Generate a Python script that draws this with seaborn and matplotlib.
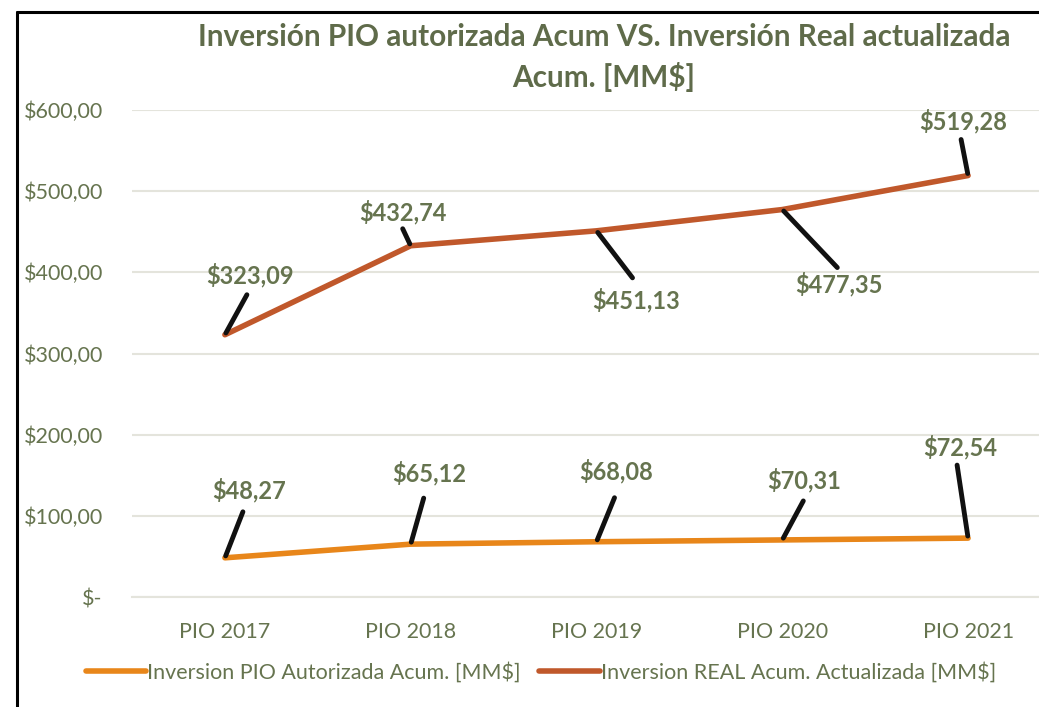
import matplotlib
matplotlib.use("Agg")
import matplotlib.pyplot as plt
import seaborn as sns
import pandas as pd
from matplotlib.lines import Line2D

categories = ["PIO 2017", "PIO 2018", "PIO 2019", "PIO 2020", "PIO 2021"]
pio_autorizada = [48.27, 65.12, 68.08, 70.31, 72.54]
real_actualizada = [323.09, 432.74, 451.13, 477.35, 519.28]
series_names = ["Inversion PIO Autorizada Acum. [MM$]",
                "Inversion REAL Acum. Actualizada [MM$]"]
y_ticks = [0, 100, 200, 300, 400, 500, 600]
y_tick_labels = ["$-", "$100,00", "$200,00", "$300,00", "$400,00", "$500,00", "$600,00"]

# label text offsets and leader-line end offsets, in pixels relative to the point
pio_text_off = [(24, 68), (19, 71), (20, 71), (22, 60), (-8, 91)]
pio_line_off = [(18, 46), (13, 46), (18, 44), (21, 39), (-11, 73)]
real_text_off = [(25, 60), (-8, 34), (40, -69), (57, -75), (-5, 54)]
real_line_off = [(22, 40), (-8, 17), (36, -47), (55, -58), (-7, 36)]

sns.set_theme(style="white")
plt.rcParams['font.family'] = ['Lato', 'DejaVu Sans']

TEXT = "#66744F"
TITLE = "#5F6B4A"
ORANGE = "#E8861A"
RUST = "#C0582B"
GRID = "#E4E4DC"

df = pd.DataFrame({
    "x": list(range(len(categories))) * 2,
    "val": pio_autorizada + real_actualizada,
    "serie": [series_names[0]] * 5 + [series_names[1]] * 5,
})

W, H = 1039, 707
fig = plt.figure(figsize=(W / 100, H / 100), dpi=100)
left_px, right_px = 132, 1061
bottom_px, top_px = 597, 110
ax = fig.add_axes([left_px / W, (H - bottom_px) / H,
                   (right_px - left_px) / W, (bottom_px - top_px) / H])

sns.lineplot(data=df, x="x", y="val", hue="serie",
             palette=[ORANGE, RUST], linewidth=4, ax=ax, legend=False,
             solid_capstyle="round")

ax.set_xlim(-0.5, len(categories) - 0.5)
ax.set_ylim(0, 600)
ax.set_yticks(y_ticks)
ax.set_yticklabels(y_tick_labels)
ax.set_xticks(range(len(categories)))
ax.set_xticklabels(categories)
ax.set_xlabel("")
ax.set_ylabel("")
for s in ["top", "right", "left"]:
    ax.spines[s].set_visible(False)
ax.spines["bottom"].set_color(GRID)
ax.spines["bottom"].set_linewidth(1.5)
ax.yaxis.grid(True, color=GRID, linewidth=1.5)
ax.set_axisbelow(True)
ax.tick_params(axis="y", colors=TEXT, labelsize=15.5, length=0, pad=21)
ax.tick_params(axis="x", colors=TEXT, labelsize=15.5, length=0, pad=18)
for lbl in ax.get_yticklabels() + ax.get_xticklabels():
    lbl.set_color(TEXT)

def fmt(v):
    return "$" + f"{v:.2f}".replace(".", ",")

for vals, toffs, loffs in [(pio_autorizada, pio_text_off, pio_line_off),
                           (real_actualizada, real_text_off, real_line_off)]:
    for i, v in enumerate(vals):
        ax.annotate("", xy=(i, v), xytext=loffs[i], textcoords="offset pixels",
                    arrowprops=dict(arrowstyle="-", color="#111111", lw=3.5,
                                    shrinkA=0, shrinkB=1.5))
        ax.annotate(fmt(v), xy=(i, v), xytext=toffs[i], textcoords="offset pixels",
                    ha="center", va="center", fontsize=17, fontweight="bold",
                    color=TEXT)

fig.text(604 / W, 1 - 37 / H, "Inversión PIO autorizada Acum VS. Inversión Real actualizada",
         ha="center", va="center", fontsize=21.4, fontweight="bold", color=TITLE)
fig.text(604 / W, 1 - 77 / H, "Acum. [MM$]",
         ha="center", va="center", fontsize=21.4, fontweight="bold", color=TITLE)

handles = [Line2D([0], [0], color=ORANGE, lw=4, solid_capstyle="round"),
           Line2D([0], [0], color=RUST, lw=4, solid_capstyle="round")]
fig.legend(handles, series_names, loc="center", bbox_to_anchor=(541 / W, 1 - 672 / H),
           ncol=2, frameon=False, fontsize=15.5, labelcolor=TEXT,
           handlelength=2.8, handletextpad=0.05, columnspacing=0.85)

fig.add_artist(Line2D([17 / W, 17 / W], [0, 1 - 12 / H], color="black", lw=2.2,
                      transform=fig.transFigure))
fig.add_artist(Line2D([17 / W, 1], [1 - 12 / H, 1 - 12 / H], color="black", lw=2.2,
                      transform=fig.transFigure))

fig.savefig("out.png", dpi=100)
